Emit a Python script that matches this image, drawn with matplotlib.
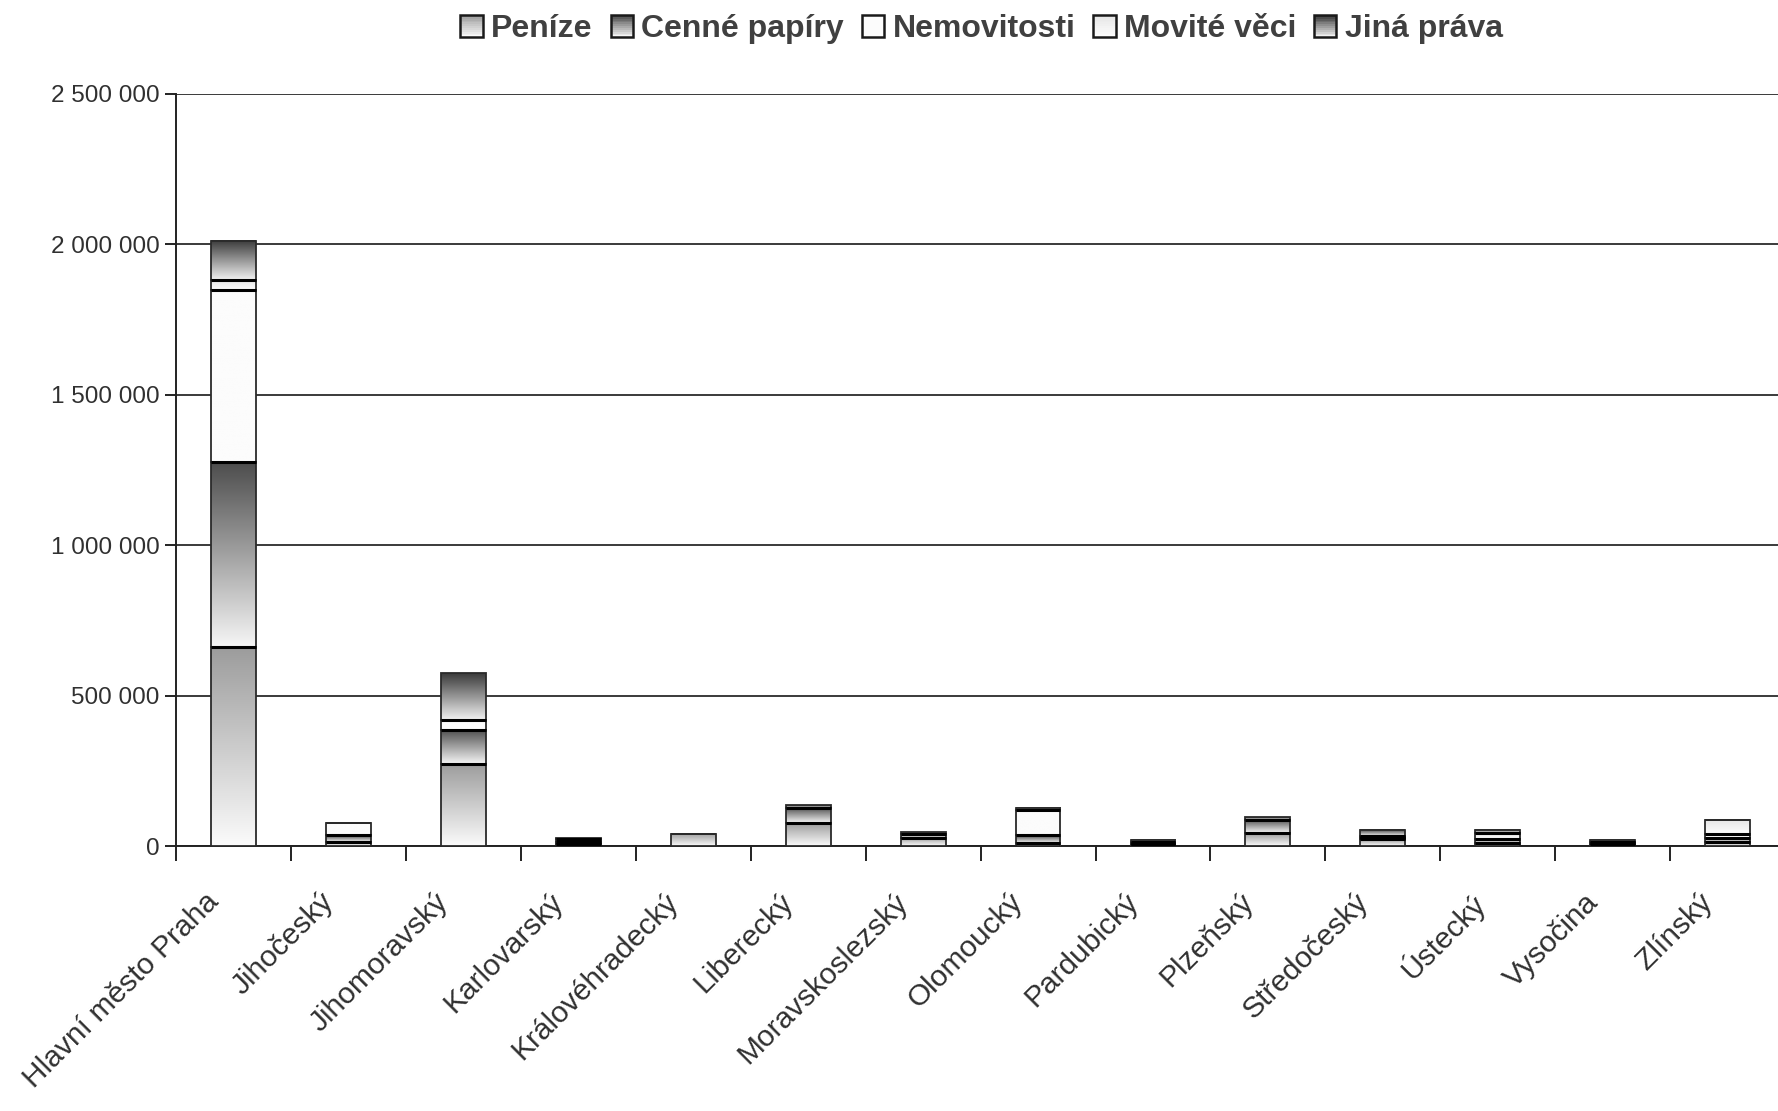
import numpy as np
import matplotlib.pyplot as plt
from matplotlib.colors import LinearSegmentedColormap
from matplotlib.patches import Rectangle
from matplotlib.legend_handler import HandlerBase
from matplotlib.ticker import FuncFormatter
from matplotlib.transforms import ScaledTranslation

# kraje
regions = ['Hlavní město Praha', 'Jihočeský', 'Jihomoravský', 'Karlovarský',
           'Královéhradecký', 'Liberecký', 'Moravskoslezský', 'Olomoucký',
           'Pardubický', 'Plzeňský', 'Středočeský', 'Ústecký', 'Vysočina', 'Zlínský']

series_names = ['Peníze', 'Cenné papíry', 'Nemovitosti', 'Movité věci', 'Jiná práva']

penize      = [661000, 15000, 273000, 8000, 40000, 76000, 27000, 10000, 3000, 43000, 22000, 10000, 4000, 12000]
cenne       = [617000, 20000, 114000, 6000, 0, 52000, 14000, 25000, 5000, 45000, 5000, 15000, 5000, 14000]
nemovitosti = [570000, 40000, 33000, 0, 0, 0, 0, 85000, 3000, 0, 3000, 0, 0, 15000]
movite      = [32000, 0, 0, 10000, 0, 0, 0, 0, 3000, 0, 3000, 18000, 4000, 46000]
jina        = [130000, 0, 155000, 3000, 0, 7000, 6000, 8000, 7000, 7000, 20000, 11000, 8000, 0]

# gradient: barva nahore -> barva dole
grad_colors = [('#9c9c9c', '#fbfbfb'),
               ('#4c4c4c', '#f6f6f6'),
               ('#fcfcfc', '#fcfcfc'),
               ('#e6e6e6', '#fdfdfd'),
               ('#3a3a3a', '#f2f2f2')]

plt.rcParams['font.family'] = ['Liberation Sans', 'DejaVu Sans']

fig = plt.figure(figsize=(17.78, 11.11), dpi=100)
ax = fig.add_axes([0.099, 0.2385, 0.905, 0.677])

data = [penize, cenne, nemovitosti, movite, jina]
x = np.arange(len(regions))
bottom = np.zeros(len(regions))
width = 0.39

all_bars = []
for vals, (ctop, cbot), name in zip(data, grad_colors, series_names):
    vals = np.array(vals, dtype=float)
    bars = ax.bar(x, vals, width, bottom=bottom, facecolor='none',
                  edgecolor='#2a2a2a', linewidth=1.3, zorder=4, label=name)
    cmap = LinearSegmentedColormap.from_list(name, [cbot, ctop])
    grad = np.linspace(0, 1, 256).reshape(-1, 1)
    for p in bars:
        if p.get_height() <= 0:
            continue
        ax.imshow(grad, extent=[p.get_x(), p.get_x() + p.get_width(),
                                p.get_y(), p.get_y() + p.get_height()],
                  origin='lower', aspect='auto', cmap=cmap, vmin=0, vmax=1, zorder=3)
    all_bars.append(bars)
    bottom = bottom + vals

# silne cary mezi segmenty
cum = np.zeros(len(regions))
totals = np.sum(np.array(data, dtype=float), axis=0)
for vals in data:
    vals = np.array(vals, dtype=float)
    cum = cum + vals
    for i in range(len(regions)):
        if vals[i] > 0 and cum[i] < totals[i] - 1:
            ax.hlines(cum[i], x[i] - width / 2, x[i] + width / 2, colors='black',
                      linewidth=2.2, zorder=5)

ax.set_xlim(-0.5, len(regions) - 0.5)
ax.set_ylim(0, 2500000)
ax.set_yticks(np.arange(0, 2500001, 500000))
ax.yaxis.set_major_formatter(FuncFormatter(lambda v, p: f'{int(v):,}'.replace(',', ' ')))
ax.yaxis.grid(True, color='#3a3a3a', linewidth=1.4, zorder=1)
ax.set_axisbelow(True)

ax.set_xticks(np.arange(-0.5, len(regions), 1.0), minor=False)
ax.set_xticklabels([])
ax.set_xticks(x, minor=True)
ax.set_xticklabels(regions, minor=True, rotation=45, ha='right', va='top',
                   rotation_mode='anchor', fontsize=21.5, color='#303030')
ax.tick_params(axis='x', which='minor', length=0, pad=30)
ax.tick_params(axis='x', which='major', length=11, width=1.4, color='#222222', direction='out')
ax.tick_params(axis='y', length=8, width=1.4, color='#222222', labelsize=17.5,
               labelcolor='#303030', pad=4)
shift = ScaledTranslation(-0.29, 0, fig.dpi_scale_trans)
for lab in ax.get_xticklabels(minor=True):
    lab.set_transform(lab.get_transform() + shift)

for s in ['top', 'right']:
    ax.spines[s].set_visible(False)
for s in ['left', 'bottom']:
    ax.spines[s].set_color('#222222')
    ax.spines[s].set_linewidth(1.4)


class GradientHandler(HandlerBase):
    def __init__(self, ctop, cbot):
        super().__init__()
        self.ctop = ctop
        self.cbot = cbot

    def create_artists(self, legend, orig_handle, xdescent, ydescent, width, height, fontsize, trans):
        cmap = LinearSegmentedColormap.from_list('h', [self.cbot, self.ctop])
        side = height * 1.0
        x0 = -xdescent + (width - side) / 2
        y0 = -ydescent
        n = 12
        arts = []
        for k in range(n):
            r = Rectangle((x0, y0 + side * k / n), side, side / n,
                          facecolor=cmap(k / (n - 1)), edgecolor='none', transform=trans)
            arts.append(r)
        arts.append(Rectangle((x0, y0), side, side, facecolor='none',
                              edgecolor='#1a1a1a', linewidth=1.8, transform=trans))
        return arts


handles = [b for b in all_bars]
handler_map = {b: GradientHandler(c[0], c[1]) for b, c in zip(all_bars, grad_colors)}
fig.legend(handles, series_names, handler_map=handler_map, loc='upper center',
           bbox_to_anchor=(0.552, 1.013), ncol=5, frameon=False,
           prop={'weight': 'bold', 'size': 23}, labelcolor='#404040',
           handlelength=0.72, handletextpad=0.25, columnspacing=0.55)

fig.savefig('out.png', dpi=100, facecolor='white')
